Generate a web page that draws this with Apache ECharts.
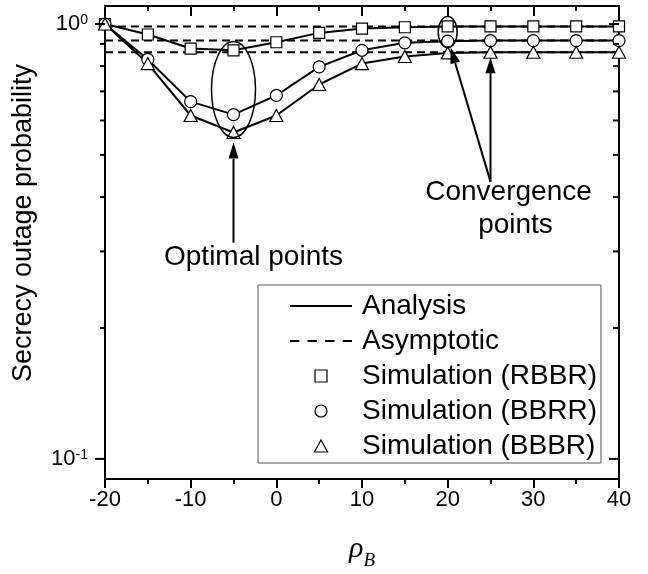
<!DOCTYPE html>
<html>
<head>
<meta charset="utf-8">
<script src="https://cdn.jsdelivr.net/npm/echarts@6/dist/echarts.min.js"></script>
<style>
    html, body { margin: 0; padding: 0; background: #fff; }
    #main { width: 648px; height: 574px; }
</style>
</head>
<body>
<div id="main"></div>
<script>
    // rho_B (dB) 
    var rhoB = [-20, -15, -10, -5, 0, 5, 10, 15, 20, 25, 30, 35, 40];
    // secrecy outage probability (analysis and simulation coincide)
    var sopRBBR = [1.0, 0.946, 0.878, 0.870, 0.908, 0.954, 0.976, 0.983, 0.987, 0.987, 0.987, 0.987, 0.987];
    var sopBBRR = [1.0, 0.829, 0.663, 0.619, 0.685, 0.797, 0.870, 0.905, 0.913, 0.916, 0.916, 0.916, 0.916];
    var sopBBBR = [1.0, 0.811, 0.616, 0.563, 0.616, 0.726, 0.811, 0.842, 0.858, 0.861, 0.861, 0.861, 0.861];
    // asymptotic floors
    var asymRBBR = 0.987;
    var asymBBRR = 0.916;
    var asymBBBR = 0.861;
    // log axis ticks
    var yMajorTicks = [0.1, 1];
    var yMinorTicks = [0.2, 0.3, 0.4, 0.5, 0.6, 0.7, 0.8, 0.9];

    var X_MIN = -20, X_MAX = 40, Y_MIN = 0.0899, Y_MAX = 1.1;
    var FONT = 'Arial, "Liberation Sans", sans-serif';
    var SERIF = '"Liberation Serif", "Times New Roman", serif';

    function pairs(ys) {
        return rhoB.map(function (x, i) { return [x, ys[i]]; });
    }

    function flat(v) {
        return [[X_MIN, v], [X_MAX, v]];
    }

    function isPow10(v) {
        var lg = Math.log10(v);
        return Math.abs(lg - Math.round(lg)) < 1e-6;
    }

    var chart = echarts.init(document.getElementById('main'));

    var lineBase = {
        type: 'line',
        symbol: 'none',
        silent: true,
        color: '#000',
        itemStyle: { color: '#000', borderWidth: 0 },
        z: 2
    };

    function analysis(ys) {
        return Object.assign({}, lineBase, {
            name: 'Analysis',
            data: pairs(ys),
            lineStyle: { color: '#000', width: 2 }
        });
    }

    function asymptote(v) {
        return Object.assign({}, lineBase, {
            name: 'Asymptotic',
            data: flat(v),
            lineStyle: { color: '#000', width: 2, type: [8, 5] }
        });
    }

    function simulation(name, ys, symbol, size) {
        return {
            type: 'scatter',
            name: name,
            data: pairs(ys),
            symbol: symbol,
            symbolSize: size,
            silent: true,
            clip: false,
            itemStyle: { color: '#fff', borderColor: '#000', borderWidth: 1.2, opacity: 1 },
            z: 4
        };
    }

    var option = {
        animation: false,
        backgroundColor: '#fff',
        grid: { left: 105, right: 29, top: 6, bottom: 95, containLabel: false, outerBoundsMode: 'none' },
        legend: {
            orient: 'vertical',
            left: 258,
            top: 285,
            selectedMode: false,
            itemWidth: 62,
            itemHeight: 12,
            itemGap: 7,
            padding: [7, 4, 3, 32],
            borderColor: '#555',
            borderWidth: 1,
            backgroundColor: '#fff',
            symbolKeepAspect: true,
            itemStyle: { borderWidth: 1.2, borderColor: '#000' },
            textStyle: { fontSize: 28, color: '#000', fontFamily: FONT, padding: [0, 0, 0, 5] },
            data: [
                { name: 'Analysis', icon: 'path://M0,0H60V2H0Z', itemStyle: { borderWidth: 0 } },
                { name: 'Asymptotic', icon: 'path://M0,0H9V2H0Z M17,0H26V2H17Z M34,0H43V2H34Z M51,0H60V2H51Z', itemStyle: { borderWidth: 0 } },
                { name: 'Simulation (RBBR)', icon: 'path://M0,0H10V10H0Z' },
                { name: 'Simulation (BBRR)', icon: 'circle' },
                { name: 'Simulation (BBBR)', icon: 'path://M6,0L12,11H0Z' }
            ]
        },
        xAxis: [{
            type: 'value',
            min: X_MIN,
            max: X_MAX,
            interval: 10,
            position: 'bottom',
            name: '{i|ρ}{sub|B}',
            nameLocation: 'middle',
            nameGap: 55,
            nameTextStyle: {
                rich: {
                    i: { fontFamily: SERIF, fontStyle: 'italic', fontSize: 30, color: '#000' },
                    sub: { fontFamily: SERIF, fontStyle: 'italic', fontSize: 19, color: '#000', verticalAlign: 'bottom', padding: [0, 0, -6, 0] }
                }
            },
            axisLine: { onZero: false, lineStyle: { color: '#000', width: 2 } },
            axisTick: { inside: false, length: 9, lineStyle: { color: '#000', width: 2 } },
            minorTick: { show: true, splitNumber: 2, length: 5, lineStyle: { color: '#000', width: 2 } },
            axisLabel: { fontSize: 22, color: '#000', fontFamily: FONT, margin: 10 },
            splitLine: { show: false }
        }, {
            type: 'value',
            min: X_MIN,
            max: X_MAX,
            interval: 10,
            position: 'top',
            axisLine: { onZero: false, lineStyle: { color: '#000', width: 2 } },
            axisTick: { inside: true, length: 10, lineStyle: { color: '#000', width: 2 } },
            minorTick: { show: true, splitNumber: 2, length: 5, lineStyle: { color: '#000', width: 2 } },
            axisLabel: { show: false },
            splitLine: { show: false }
        }],
        yAxis: [{
            type: 'log',
            logBase: 10,
            min: Y_MIN,
            max: Y_MAX,
            position: 'left',
            axisLine: { onZero: false, lineStyle: { color: '#000', width: 2 } },
            axisTick: { show: false },
            axisLabel: {
                margin: 17,
                color: '#000',
                formatter: function (v) {
                    if (!isPow10(v)) return '';
                    return '{b|10}{sup|' + Math.round(Math.log10(v)) + '}';
                },
                rich: {
                    b: { fontSize: 22, fontFamily: FONT, color: '#000' },
                    sup: { fontSize: 14, fontFamily: FONT, color: '#000', verticalAlign: 'top', padding: [0, 0, 6, 0] }
                }
            },
            splitLine: { show: false }
        }, {
            type: 'log',
            logBase: 10,
            min: Y_MIN,
            max: Y_MAX,
            position: 'right',
            axisLine: { onZero: false, lineStyle: { color: '#000', width: 2 } },
            axisTick: { show: false },
            axisLabel: { show: false },
            splitLine: { show: false }
        }],
        series: [
            asymptote(asymRBBR),
            asymptote(asymBBRR),
            asymptote(asymBBBR),
            analysis(sopRBBR),
            analysis(sopBBRR),
            analysis(sopBBBR),
            simulation('Simulation (RBBR)', sopRBBR, 'rect', 11),
            simulation('Simulation (BBRR)', sopBBRR, 'circle', 12),
            simulation('Simulation (BBBR)', sopBBBR, 'triangle', [13, 12]),
            {
                // log-axis ticks on the left (outward) and right (inward)
                type: 'custom',
                silent: true,
                clip: false,
                z: 6,
                data: yMajorTicks.concat(yMinorTicks).map(function (v) { return [X_MIN, v]; }),
                renderItem: function (params, api) {
                    var v = api.value(1);
                    var l = api.coord([X_MIN, v]);
                    var r = api.coord([X_MAX, v]);
                    var major = isPow10(v);
                    var outLen = major ? 10 : 5;
                    var inLen = major ? 10 : 6;
                    var st = { stroke: '#000', lineWidth: 2 };
                    return {
                        type: 'group',
                        children: [
                            { type: 'line', shape: { x1: l[0] - outLen, y1: l[1], x2: l[0], y2: l[1] }, style: st },
                            { type: 'line', shape: { x1: r[0] - inLen, y1: r[1], x2: r[0], y2: r[1] }, style: st }
                        ]
                    };
                }
            }
        ]
    };

    chart.setOption(option);

    // annotations (ellipses, arrows, labels) anchored to data coordinates
    function px(x, y) {
        return chart.convertToPixel({ gridIndex: 0 }, [x, y]);
    }

    function arrow(x1, y1, x2, y2) {
        var ang = Math.atan2(y2 - y1, x2 - x1);
        var hl = 16, hw = 5;
        var bx = x2 - hl * Math.cos(ang), by = y2 - hl * Math.sin(ang);
        return [
            { type: 'line', silent: true, z: 10, shape: { x1: x1, y1: y1, x2: bx, y2: by }, style: { stroke: '#000', lineWidth: 2 } },
            {
                type: 'polygon', silent: true, z: 10,
                shape: { points: [[x2, y2], [bx + hw * Math.sin(ang), by - hw * Math.cos(ang)], [bx - hw * Math.sin(ang), by + hw * Math.cos(ang)]] },
                style: { fill: '#000' }
            }
        ];
    }

    function label(text, x, y) {
        return {
            type: 'text', silent: true, z: 10, x: x, y: y,
            style: { text: text, fontSize: 28, fontFamily: FONT, fill: '#000', align: 'center', verticalAlign: 'middle' }
        };
    }

    var e1 = px(-5, 0.707);
    var e2 = px(20, 0.958);
    var optTip = px(-5, 0.563);
    var optTail = px(-5, 0.314);
    var convBase = px(25, 0.434);
    var convTip = px(25, asymBBBR);

    var graphics = [
        { type: 'ellipse', silent: true, z: 10, shape: { cx: e1[0], cy: e1[1], rx: 22, ry: 48 }, style: { fill: 'none', stroke: '#000', lineWidth: 1.5 } },
        { type: 'ellipse', silent: true, z: 10, shape: { cx: e2[0], cy: e2[1], rx: 9.5, ry: 15.5 }, style: { fill: 'none', stroke: '#000', lineWidth: 1.5 } }
    ];
    graphics = graphics
        .concat(arrow(optTail[0], optTail[1], optTip[0], optTip[1] + 10))
        .concat(arrow(convBase[0], convBase[1], convTip[0], convTip[1] + 5))
        .concat(arrow(convBase[0], convBase[1], e2[0] + 3, e2[1] + 15.5));
    graphics.push(label('Optimal points', optTip[0] + 20, 257));
    graphics.push(label('Convergence', convBase[0] + 18, 192));
    graphics.push(label('points', convBase[0] + 25, 225));
    graphics.push({
        type: 'text', silent: true, x: 24, y: 223, rotation: Math.PI / 2,
        style: { text: 'Secrecy outage probability', fontSize: 27, fontFamily: FONT, fill: '#000', align: 'center', verticalAlign: 'middle' }
    });

    chart.setOption({ graphic: graphics });
</script>
</body>
</html>
